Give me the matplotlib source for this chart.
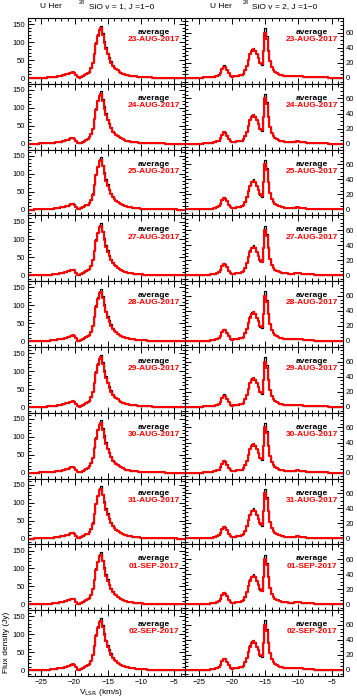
import numpy as np
import matplotlib
matplotlib.use("Agg")
import matplotlib.pyplot as plt
from matplotlib.ticker import MultipleLocator

plt.rcParams['font.family'] = ['Liberation Sans', 'DejaVu Sans']

dates = ["23-AUG-2017", "24-AUG-2017", "25-AUG-2017", "27-AUG-2017", "28-AUG-2017",
         "29-AUG-2017", "30-AUG-2017", "31-AUG-2017", "01-SEP-2017", "02-SEP-2017"]

# velocity channels (km/s), 0.25 km/s wide
vel = np.arange(-27.0, -3.49, 0.25)

# SiO v=1 J=1-0, red (average) profile, Jy
v1_red = [0, 0, 0, 0,
          0.5, 0.5, 0.5, 1,
          1, 1, 1.5, 1.5,
          2, 2, 2.5, 3,
          3.5, 4, 5, 5.5,
          6.5, 7.5, 8.5, 10,
          11.5, 13, 15, 16.5,
          14, 8, 2, 1,
          3.5, 6, 9, 12,
          14, 18, 27, 42,
          68, 95, 118, 134,
          138, 120, 98, 80,
          66, 54, 43, 34,
          29, 25, 21, 18,
          15, 12.5, 10.5, 9,
          8, 7, 6, 5.5,
          5, 4.5, 4, 3.5,
          3, 3, 2.5, 2.5,
          2, 2, 2, 1.5,
          1.5, 1.5, 1, 1,
          1, 1, 1, 0.5,
          0.5, 0.5, 0.5, 0.5,
          0.5, 0.5, 0, 0,
          0, 0, 0]

# SiO v=1 black profile
v1_black = [0, 0, 0, 0,
            0.5, 0.5, 0.5, 1,
            1, 1, 1.5, 1.5,
            2, 2, 2.5, 3,
            3.5, 4, 5, 5.5,
            6.5, 7.5, 8.5, 10,
            11.5, 13.5, 15.5, 17.5,
            14.5, 8, 2, 1,
            3.5, 6, 9, 12,
            14, 18, 28, 45,
            72, 100, 122, 140,
            146, 125, 104, 85,
            70, 58, 47, 37,
            30, 26, 21, 18,
            15, 12.5, 10.5, 9,
            8, 7, 6, 5.5,
            5, 4.5, 4, 3.5,
            3, 3, 2.5, 2.5,
            2, 2, 2, 1.5,
            1.5, 1.5, 1, 1,
            1, 1, 1, 0.5,
            0.5, 0.5, 0.5, 0.5,
            0.5, 0.5, 0, 0,
            0, 0, 0]

# SiO v=2 J=1-0, red (average) profile
v2_red = [0, 0, 0, 0,
          0, 0, 0, 0,
          0, 0, 0, 0.5,
          0.5, 0.5, 0.5, 1,
          1, 1.5, 2, 3,
          4, 7, 12, 15,
          14, 10.5, 6, 3,
          1.5, 2, 2.5, 3,
          3, 3.5, 4, 5.5,
          10, 16, 24, 31,
          36, 38, 36, 31,
          26, 20, 18, 36,
          60, 52, 36, 22,
          14, 10, 7.5, 6,
          5, 4, 3.5, 3,
          2.5, 2.5, 2, 2,
          2, 2, 2.5, 3,
          3, 2.5, 2, 1.5,
          1.5, 1, 1, 1,
          1, 1, 0.5, 0.5,
          0.5, 0.5, 0.5, 0.5,
          0.5, 0.5, 0, 0,
          0, 0, 0, 0,
          0, 0, 0]

# SiO v=2 black profile
v2_black = [0, 0, 0, 0,
            0, 0, 0, 0,
            0, 0, 0, 0.5,
            0.5, 0.5, 0.5, 1,
            1, 1.5, 2, 3,
            4, 7.5, 13, 16.5,
            15, 11, 6, 3,
            1.5, 2, 2.5, 3,
            3, 3.5, 4, 5.5,
            10, 17, 25, 33,
            38, 40, 37, 31,
            26, 19, 17, 38,
            66, 55, 37, 22,
            14, 10, 7.5, 6,
            5, 4, 3.5, 3,
            2.5, 2.5, 2, 2,
            2, 2, 2.5, 3,
            3, 2.5, 2, 1.5,
            1.5, 1, 1, 1,
            1, 1, 0.5, 0.5,
            0.5, 0.5, 0.5, 0.5,
            0.5, 0.5, 0, 0,
            0, 0, 0, 0,
            0, 0, 0]

fig = plt.figure(figsize=(3.57, 7.0), dpi=100)
axes = fig.subplots(10, 2, sharex=True,
                    gridspec_kw=dict(left=28 / 357, right=343 / 357,
                                     top=1 - 18 / 700, bottom=1 - 676 / 700,
                                     hspace=0, wspace=0))

for i, date in enumerate(dates):
    for j, (black, red) in enumerate([(v1_black, v1_red), (v2_black, v2_red)]):
        ax = axes[i, j]
        ax.step(vel, black, where='mid', color='black', lw=0.9)
        ax.step(vel, red, where='mid', color='red', lw=1.5)
        ax.set_xlim(-27, -3.3)
        if j == 0:
            ax.set_ylim(-16, 167)
            ax.yaxis.set_major_locator(MultipleLocator(50))
            ax.yaxis.set_minor_locator(MultipleLocator(10))
        else:
            ax.set_ylim(-8, 79.5)
            ax.yaxis.set_major_locator(MultipleLocator(20))
            ax.yaxis.set_minor_locator(MultipleLocator(5))
        ax.xaxis.set_major_locator(MultipleLocator(5))
        ax.xaxis.set_minor_locator(MultipleLocator(1))
        ax.tick_params(which='both', direction='in', top=True, right=True,
                       labelsize=5.5, width=0.7, pad=2)
        ax.tick_params(which='major', length=4)
        ax.tick_params(which='minor', length=2)
        if j == 1:
            ax.tick_params(labelleft=False, labelright=True)
        for s in ax.spines.values():
            s.set_linewidth(0.8)
        ax.text(0.80, 0.78, "average", transform=ax.transAxes, ha='center',
                va='center', fontsize=6, fontweight='bold', color='black')
        ax.text(0.80, 0.67, date, transform=ax.transAxes, ha='center',
                va='center', fontsize=6, fontweight='bold', color='red')

# titles
fig.text(40 / 357, 1 - 7 / 700, "U Her", fontsize=6, va='center')
fig.text(79 / 357, 1 - 3 / 700, "28", fontsize=4, va='center')
fig.text(89 / 357, 1 - 7 / 700, "SiO v = 1, J =1\u22120", fontsize=6, va='center')
fig.text(210 / 357, 1 - 7 / 700, "U Her", fontsize=6, va='center')
fig.text(243 / 357, 1 - 3 / 700, "28", fontsize=4, va='center')
fig.text(252 / 357, 1 - 7 / 700, "SiO v = 2, J =1\u22120", fontsize=6, va='center')

fig.text(7 / 357, 1 - 642 / 700, "Flux density (Jy)", rotation=90, fontsize=6,
         ha='center', va='center')
fig.text(101 / 357, 1 - 693 / 700, r"V$_{\rm LSR}$ (km/s)", fontsize=6,
         ha='center', va='center')

fig.savefig("out.png", dpi=100)
